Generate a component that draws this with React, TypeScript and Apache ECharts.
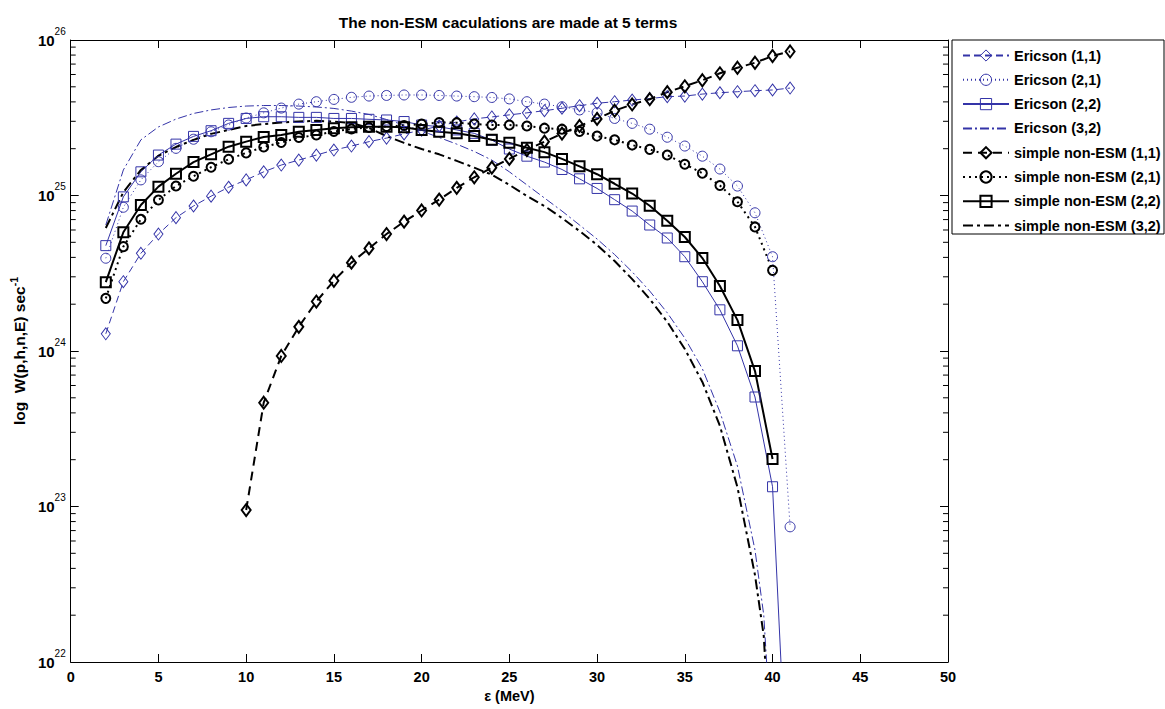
import React, { useEffect, useRef } from "react";
import * as echarts from "echarts";

// ---------- data ----------
const energy2to41 = [2,3,4,5,6,7,8,9,10,11,12,13,14,15,16,17,18,19,20,21,22,23,24,25,26,27,28,29,30,31,32,33,34,35,36,37,38,39,40,41];
const energy2to40 = [2,3,4,5,6,7,8,9,10,11,12,13,14,15,16,17,18,19,20,21,22,23,24,25,26,27,28,29,30,31,32,33,34,35,36,37,38,39,40];
const energy10to41 = [10,11,12,13,14,15,16,17,18,19,20,21,22,23,24,25,26,27,28,29,30,31,32,33,34,35,36,37,38,39,40,41];
const energyCurve = [2,3,4,5,6,7,8,9,10,11,12,13,14,15,16,17,18,19,20,21,22,23,24,25,26,27,28,29,30,31,32,33,34,35,36,37,38,39,39.5,40];

const ericson11 = [1.29e24,2.79e24,4.25e24,5.65e24,7.2e24,8.56e24,9.9e24,1.13e25,1.26e25,1.42e25,1.57e25,1.69e25,1.82e25,1.96e25,2.08e25,2.22e25,2.34e25,2.49e25,2.63e25,2.80e25,2.97e25,3.11e25,3.20e25,3.30e25,3.40e25,3.51e25,3.64e25,3.78e25,3.92e25,4.01e25,4.11e25,4.20e25,4.32e25,4.36e25,4.49e25,4.58e25,4.65e25,4.72e25,4.77e25,4.91e25];
const ericson21 = [3.95e24,8.4e24,1.26e25,1.65e25,2.01e25,2.30e25,2.57e25,2.84e25,3.15e25,3.40e25,3.65e25,3.87e25,4.01e25,4.15e25,4.28e25,4.36e25,4.40e25,4.43e25,4.43e25,4.40e25,4.36e25,4.32e25,4.27e25,4.18e25,4.01e25,3.87e25,3.72e25,3.55e25,3.41e25,3.13e25,2.91e25,2.67e25,2.37e25,2.08e25,1.79e25,1.48e25,1.15e25,7.74e24,4.04e24,7.4e22];
const ericson22 = [4.76e24,9.8e24,1.42e25,1.82e25,2.14e25,2.40e25,2.61e25,2.91e25,3.13e25,3.21e25,3.21e25,3.18e25,3.18e25,3.13e25,3.13e25,3.09e25,3.06e25,2.99e25,2.84e25,2.77e25,2.64e25,2.51e25,2.27e25,1.99e25,1.79e25,1.64e25,1.47e25,1.28e25,1.11e25,9.4e24,7.94e24,6.46e24,5.33e24,4.04e24,2.79e24,1.84e24,1.08e24,5.06e23,1.34e23,6e20];
const ericson32 = [6.46e24,1.46e25,2.28e25,2.76e25,3.10e25,3.37e25,3.55e25,3.68e25,3.76e25,3.79e25,3.79e25,3.76e25,3.71e25,3.63e25,3.49e25,3.32e25,3.08e25,2.84e25,2.60e25,2.36e25,2.14e25,1.92e25,1.69e25,1.42e25,1.17e25,9.64e24,7.94e24,6.46e24,5.25e24,4.17e24,3.23e24,2.43e24,1.76e24,1.21e24,7.69e23,4.06e23,1.82e23,5.25e22,2.00e22,2.34e21];
const simple11 = [9.49e22,4.65e23,9.29e23,1.43e24,2.08e24,2.83e24,3.70e24,4.57e24,5.65e24,6.79e24,8.01e24,9.41e24,1.12e25,1.31e25,1.51e25,1.72e25,1.96e25,2.22e25,2.50e25,2.80e25,3.11e25,3.51e25,3.85e25,4.16e25,4.62e25,5.04e25,5.51e25,6.11e25,6.63e25,7.14e25,7.89e25,8.44e25];
const simple21 = [2.18e24,4.69e24,7.03e24,9.35e24,1.15e25,1.33e25,1.52e25,1.71e25,1.88e25,2.05e25,2.19e25,2.36e25,2.45e25,2.58e25,2.68e25,2.74e25,2.78e25,2.82e25,2.88e25,2.95e25,2.94e25,2.88e25,2.84e25,2.84e25,2.80e25,2.71e25,2.67e25,2.58e25,2.41e25,2.28e25,2.11e25,1.98e25,1.82e25,1.59e25,1.39e25,1.16e25,9.12e24,6.28e24,3.30e24];
const simple22 = [2.77e24,5.80e24,8.69e24,1.14e25,1.38e25,1.64e25,1.84e25,2.06e25,2.22e25,2.38e25,2.45e25,2.57e25,2.64e25,2.71e25,2.75e25,2.77e25,2.77e25,2.75e25,2.64e25,2.57e25,2.51e25,2.41e25,2.28e25,2.18e25,2.03e25,1.90e25,1.72e25,1.54e25,1.37e25,1.19e25,1.03e25,8.59e24,6.89e24,5.41e24,3.96e24,2.62e24,1.58e24,7.43e23,2.02e23];
const simple32 = [6.18e24,1.05e25,1.46e25,1.80e25,2.05e25,2.28e25,2.49e25,2.64e25,2.80e25,2.88e25,2.95e25,2.99e25,3.02e25,2.99e25,2.93e25,2.72e25,2.41e25,2.18e25,1.99e25,1.84e25,1.67e25,1.51e25,1.36e25,1.17e25,9.93e24,8.56e24,7.16e24,5.91e24,4.81e24,3.79e24,2.90e24,2.16e24,1.54e24,1.03e24,6.32e23,3.30e23,1.33e23,3.62e22,1.47e22,1.50e21];

const seriesNames = [
  "Ericson (1,1)",
  "Ericson (2,1)",
  "Ericson (2,2)",
  "Ericson (3,2)",
  "simple non-ESM (1,1)",
  "simple non-ESM (2,1)",
  "simple non-ESM (2,2)",
  "simple non-ESM (3,2)",
];
const xTicks = [0, 5, 10, 15, 20, 25, 30, 35, 40, 45, 50];
const yDecades = [22, 23, 24, 25, 26];
const minorMantissas = [2, 3, 4, 5, 6, 7, 8, 9];

const TITLE = "The non-ESM caculations are made at 5 terms";
const X_NAME = "ε (MeV)";

// ---------- styling ----------
const FONT = "'Liberation Sans', Arial, sans-serif";
const BLUE = "#3434a8";
const BLACK = "#000000";
const CLEAR = "rgba(0,0,0,0)";

function pairs(xs: number[], ys: number[]) {
  return xs.map((x, i) => [x, ys[i]]);
}

function lineSeries(
  name: string,
  data: number[][],
  color: string,
  width: number,
  dash: any,
  symbol: string,
  size: any,
  borderW: number
) {
  return {
    name,
    type: "line",
    data,
    xAxisIndex: 0,
    yAxisIndex: 0,
    smooth: false,
    symbol,
    symbolSize: size,
    showSymbol: symbol !== "none",
    clip: true,
    lineStyle: { color, width, type: dash },
    itemStyle: { color: CLEAR, borderColor: color, borderWidth: borderW },
    emphasis: { disabled: true },
    z: 3,
  };
}

function buildOption() {
  const minorTicks: number[][] = [];
  for (let i = 0; i < yDecades.length - 1; i++) {
    for (const m of minorMantissas) minorTicks.push([0, m * Math.pow(10, yDecades[i])]);
  }

  const labelStyle = { fontFamily: FONT, fontWeight: "bold", fontSize: 14.5, color: "#000" };

  const series: any[] = [
    lineSeries(seriesNames[0], pairs(energy2to41, ericson11), BLUE, 1, [7, 4], "diamond", [9, 12], 1),
    lineSeries(seriesNames[1], pairs(energy2to41, ericson21), BLUE, 1, [1, 3], "circle", 10, 1),
    lineSeries(seriesNames[2], pairs(energy2to41, ericson22), BLUE, 1, "solid", "rect", 10, 1),
    lineSeries(seriesNames[3], pairs(energyCurve, ericson32), BLUE, 1, [9, 3, 2, 3], "none", 0, 0),
    lineSeries(seriesNames[4], pairs(energy10to41, simple11), BLACK, 2, [9, 6], "diamond", [9, 12], 2),
    lineSeries(seriesNames[5], pairs(energy2to40, simple21), BLACK, 2, [2, 4], "circle", 9, 2),
    lineSeries(seriesNames[6], pairs(energy2to40, simple22), BLACK, 2, "solid", "rect", 10, 2),
    lineSeries(seriesNames[7], pairs(energyCurve, simple32), BLACK, 2, [10, 4, 3, 4], "none", 0, 0),
    {
      name: "minorTicks",
      type: "custom",
      xAxisIndex: 0,
      yAxisIndex: 0,
      silent: true,
      clip: false,
      data: minorTicks,
      encode: { x: 0, y: 1 },
      z: 5,
      renderItem: (params: any, api: any) => {
        const v = api.value(1);
        const l = api.coord([xTicks[0], v]);
        const r = api.coord([xTicks[xTicks.length - 1], v]);
        return {
          type: "group",
          children: [
            { type: "line", shape: { x1: l[0], y1: l[1], x2: l[0] + 5, y2: l[1] }, style: { stroke: "#000", lineWidth: 1 } },
            { type: "line", shape: { x1: r[0] - 5, y1: r[1], x2: r[0], y2: r[1] }, style: { stroke: "#000", lineWidth: 1 } },
          ],
        };
      },
    },
  ];

  const legendData = seriesNames.map((n, i) => ({
    name: n,
    itemStyle: { borderWidth: i === 3 || i === 7 ? 0 : i < 4 ? 1 : 2 },
  }));

  const axisLine = { show: true, onZero: false, lineStyle: { color: "#000", width: 1 } };

  return {
    animation: false,
    backgroundColor: "#fff",
    grid: { left: 68, right: 217, top: 40, bottom: 47, containLabel: false },
    xAxis: [
      {
        type: "value",
        min: xTicks[0],
        max: xTicks[xTicks.length - 1],
        interval: 5,
        axisLine,
        axisTick: { show: true, inside: true, length: 8, lineStyle: { color: "#000" } },
        splitLine: { show: false },
        axisLabel: { ...labelStyle, margin: 7 },
        name: X_NAME,
        nameLocation: "middle",
        nameGap: 26,
        nameTextStyle: { ...labelStyle },
      },
      {
        type: "value",
        position: "top",
        min: xTicks[0],
        max: xTicks[xTicks.length - 1],
        interval: 5,
        axisLine,
        axisTick: { show: true, inside: true, length: 8, lineStyle: { color: "#000" } },
        splitLine: { show: false },
        axisLabel: { show: false },
      },
    ],
    yAxis: [
      {
        type: "log",
        logBase: 10,
        min: Math.pow(10, yDecades[0]),
        max: Math.pow(10, yDecades[yDecades.length - 1]),
        splitNumber: 4,
        axisLine,
        axisTick: { show: true, inside: true, length: 8, lineStyle: { color: "#000" } },
        splitLine: { show: false },
        minorTick: { show: false },
        axisLabel: {
          margin: 5,
          formatter: (v: number) => `{b|10}{s|${Math.round(Math.log10(v))}}`,
          rich: {
            b: { fontFamily: FONT, fontWeight: "bold", fontSize: 15, color: "#000", lineHeight: 28 },
            s: { fontFamily: FONT, fontSize: 10, color: "#000", lineHeight: 10, verticalAlign: "top" },
          },
        },
        name: "{a|log  W(p,h,n,E) sec}{s|-1}",
        nameLocation: "middle",
        nameRotate: 90,
        nameGap: 40,
        nameTextStyle: {
          rich: {
            a: { fontFamily: FONT, fontWeight: "bold", fontSize: 15.5, color: "#000", lineHeight: 22 },
            s: { fontFamily: FONT, fontWeight: "bold", fontSize: 10.5, color: "#000", lineHeight: 10, verticalAlign: "top" },
          },
        },
      },
      {
        type: "log",
        logBase: 10,
        position: "right",
        min: Math.pow(10, yDecades[0]),
        max: Math.pow(10, yDecades[yDecades.length - 1]),
        splitNumber: 4,
        axisLine,
        axisTick: { show: true, inside: true, length: 8, lineStyle: { color: "#000" } },
        splitLine: { show: false },
        axisLabel: { show: false },
      },
    ],
    legend: {
      orient: "vertical",
      left: 962,
      top: 48,
      padding: 0,
      itemWidth: 46,
      itemHeight: 14,
      itemGap: 9.3,
      selectedMode: false,
      data: legendData,
      textStyle: { fontFamily: FONT, fontWeight: "bold", fontSize: 14.5, color: "#000", lineHeight: 14 },
      z: 10,
    },
    graphic: [
      {
        type: "rect",
        z: 1,
        shape: { x: 952, y: 40, width: 212, height: 194 },
        style: { fill: "#fff", stroke: "#000", lineWidth: 1 },
      },
      {
        type: "text",
        z: 10,
        x: 508,
        y: 22,
        style: {
          text: TITLE,
          font: `bold 15.5px ${FONT}`,
          fill: "#000",
          textAlign: "center",
          textVerticalAlign: "middle",
          align: "center",
          verticalAlign: "middle",
        },
      },
    ],
    series,
  };
}

export default function App() {
  const ref = useRef<HTMLDivElement>(null);
  useEffect(() => {
    if (!ref.current) return;
    const chart = echarts.init(ref.current, null, { renderer: "svg" });
    chart.setOption(buildOption() as any);
    return () => chart.dispose();
  }, []);
  return (
    <div
      ref={ref}
      style={{ position: "absolute", left: 0, top: 0, width: 1165, height: 709, background: "#fff" }}
    />
  );
}
